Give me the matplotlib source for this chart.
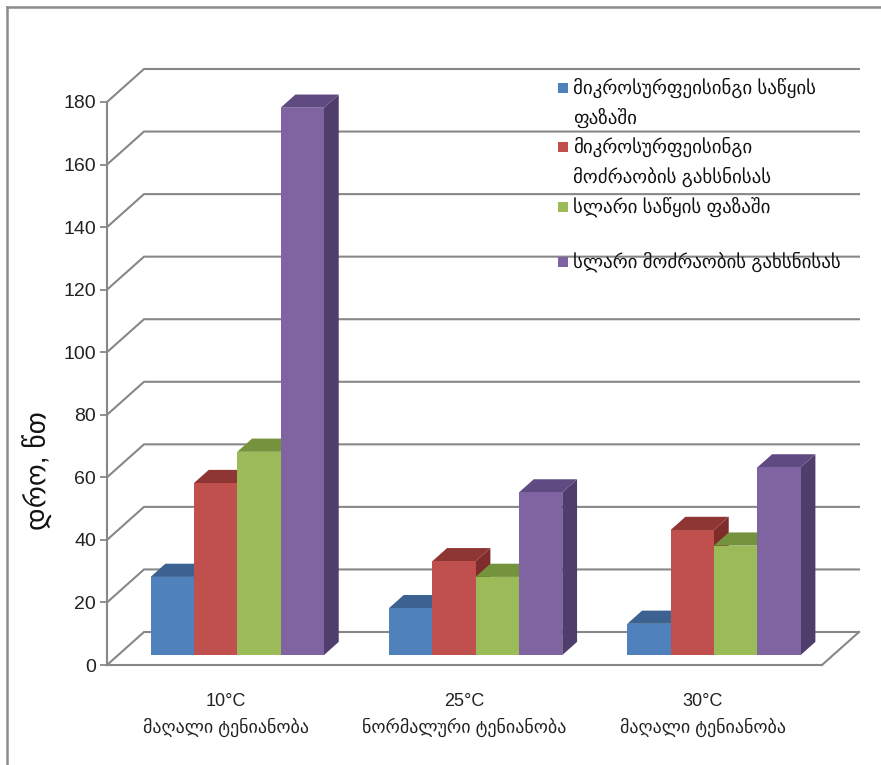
import matplotlib
matplotlib.use("Agg")
import matplotlib.pyplot as plt
from matplotlib.patches import Polygon, Rectangle
from matplotlib.lines import Line2D
import numpy as np

plt.rcParams["font.family"] = ["Liberation Sans", "DejaVu Sans"]

# ── data ──────────────────────────────────────────────────────────────────────
categories = [
    "10°C\nმაღალი ტენიანობა",
    "25°C\nნორმალური ტენიანობა",
    "30°C\nმაღალი ტენიანობა",
]
series_names = [
    "მიკროსურფეისინგი საწყის\nფაზაში",
    "მიკროსურფეისინგი\nმოძრაობის გახსნისას",
    "სლარი საწყის ფაზაში",
    "სლარი მოძრაობის გახსნისას",
]
micro_start = [25, 15, 10]
micro_open = [55, 30, 40]
slurry_start = [65, 25, 35]
slurry_open = [175, 52, 60]
series_values = [micro_start, micro_open, slurry_start, slurry_open]
y_ticks = list(range(0, 181, 20))
y_label = "დრო, წთ"

# front / top / side shades for each series (Office 2007 palette)
FRONT = ["#4F81BD", "#C0504D", "#9BBB59", "#8064A2"]
TOP = ["#3B6291", "#8E3634", "#75923C", "#5F4B82"]
SIDE = ["#2F4E74", "#7F2D2B", "#66803A", "#4F3D6B"]
GRID = "#878787"

W_PX, H_PX = 881, 765
fig = plt.figure(figsize=(W_PX / 100, H_PX / 100), dpi=100)


def fx(px):
    return px / W_PX


def fy(py):
    return 1 - py / H_PX


# outer chart frame
fig.add_artist(Line2D([fx(7), fx(7)], [fy(7), 0], color="#8C8C8C", lw=1.8))
fig.add_artist(Line2D([fx(7), 1], [fy(7), fy(7)], color="#8C8C8C", lw=1.8))

# the axes is the front plane of the 3-D box
ax = fig.add_axes([fx(107), fy(665), fx(822) - fx(107), fy(102) - fy(665)])
ax.set_xlim(0, len(categories))
ax.set_ylim(0, 180)
ax.set_facecolor("none")

# depth of the box in data units
DX = 37 / (715 / 3)
DY = 33 / (563 / 180)
n_cat = len(categories)

# side wall diagonals + back wall gridlines
for t in y_ticks:
    ax.plot([0, DX, n_cat + DX], [t, t + DY, t + DY], color=GRID, lw=1.5,
            clip_on=False, zorder=1, solid_joinstyle="miter")
# floor outline
ax.plot([n_cat, n_cat + DX], [0, DY], color=GRID, lw=1.5, clip_on=False, zorder=1)

# bars
n_ser = len(series_values)
gap = 1.5
bw = 1 / (n_ser + gap)
f0, f1 = 0.3, 0.7
for i in range(n_cat):
    for j, vals in enumerate(series_values):
        v = vals[i]
        x0 = i + bw * gap / 2 + j * bw
        xa, ya = x0 + f0 * DX, f0 * DY
        xb, yb = x0 + f1 * DX, f1 * DY
        side = Polygon([(xa + bw, ya), (xb + bw, yb), (xb + bw, v + yb), (xa + bw, v + ya)],
                       closed=True, facecolor=SIDE[j], edgecolor="none", zorder=3,
                       clip_on=False)
        top = Polygon([(xa, v + ya), (xa + bw, v + ya), (xb + bw, v + yb), (xb, v + yb)],
                      closed=True, facecolor=TOP[j], edgecolor="none", zorder=3,
                      clip_on=False)
        front = Rectangle((xa, ya), bw, v, facecolor=FRONT[j], edgecolor="none",
                          zorder=3, clip_on=False)
        for p in (side, top, front):
            ax.add_patch(p)

# axes styling
for s in ("top", "right"):
    ax.spines[s].set_visible(False)
for s in ("left", "bottom"):
    ax.spines[s].set_color(GRID)
    ax.spines[s].set_linewidth(1.5)
    ax.spines[s].set_zorder(2)
ax.set_yticks(y_ticks)
ax.tick_params(axis="y", direction="out", length=5, width=1.3, color=GRID,
               labelsize=14, pad=3, labelcolor="#222222")
ax.set_xticks(np.arange(n_cat) + 0.5)
ax.set_xticklabels(categories, fontsize=13, linespacing=1.55)
ax.tick_params(axis="x", length=0, pad=20, labelcolor="#222222")
ax.set_ylabel(y_label, fontsize=20, color="#111111")
ax.yaxis.label.set(ha="center", va="center")
ax.yaxis.set_label_coords(-0.0965, 0.346)

# legend, drawn by hand so that entries keep their line positions
legend_rows = [88, 147, 207, 262]
line_h = 29.5
for j, name in enumerate(series_names):
    y0 = legend_rows[j]
    fig.add_artist(Rectangle((fx(558), fy(y0 + 5)), fx(10), 10 / H_PX,
                             facecolor=FRONT[j], edgecolor="none"))
    for k, line in enumerate(name.split("\n")):
        fig.text(fx(573), fy(y0 + k * line_h), line, fontsize=13.6,
                 va="center", ha="left", color="#111111")

fig.savefig("out.png", dpi=100)
